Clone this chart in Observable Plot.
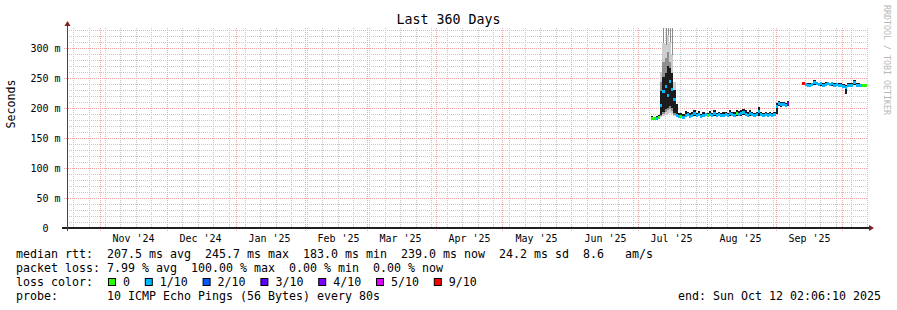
<!DOCTYPE html>
<html><head><meta charset="utf-8">
<script src="https://cdn.jsdelivr.net/npm/d3@7"></script>
<script src="https://cdn.jsdelivr.net/npm/@observablehq/plot@0.6"></script>
<style>
html,body{margin:0;padding:0;background:#fff;}
#chart svg{display:block;}
</style></head><body>
<div id="chart"></div>
<script>
// ---- time frame ----
const START = new Date(Date.UTC(2024, 9, 17, 2, 6, 10));
const END = new Date(Date.UTC(2025, 9, 12, 2, 6, 10));
const yTicks = [0, 50, 100, 150, 200, 250, 300];
const yMax = 333.33;

// ---- loss colours ----
const lossLevels = [0, 1, 2, 3, 4, 5, 9];
const lossLabels = ["0", "1/10", "2/10", "3/10", "4/10", "5/10", "9/10"];
const lossColors = ["#26ff00", "#00b8ff", "#0059ff", "#5e00ff", "#7e00ff", "#dd00ff", "#ff0000"];

// ---- segment 1: Jul 7 .. Sep 6 2025 (daily, ms) ----
const seg1Start = "2025-07-07";
const seg1Median = [184,183,184,185, 205,228,236,222,245.7,232,215,
  189,186,187,185,188,190,187,189,191,188,190,187,189,190,
  188,190,189,191,188,190,189,188,190,189, 191,190,189,192,190,191,193,190,189,191,
  190,189,190,195,190,189,190,189,190,189,190,
  204,208,206,207,205,209];
const seg1Lo = [182,181,182,183, 188,194,198,200,204,200,192,
  186,183,184,183,185,186,184,185,187,185,186,184,185,186,
  185,186,186,187,185,186,186,185,186,186, 187,186,186,187,186,187,188,186,186,187,
  186,186,186,187,186,186,186,186,187,186,187,
  190,203,202,203,202,204];
const seg1Hi = [186,185,187,189, 228,252,258,270,266,258,230,
  206,192,191,190,195,193,192,194,196,191,195,190,194,192,
  191,195,192,196,191,194,192,193,194,192, 196,193,194,197,195,197,198,196,193,196,
  194,192,194,201,193,192,193,192,193,192,193,
  208,211,210,210,209,212];
const seg1Loss = [0,0,1,0, 1,1,1,1,1,1,1,
  1,1,0,1,1,1,1,1,1,1,1,1,1,1,
  0,1,1,1,1,1,1,1,1,1, 1,1,1,0,1,1,1,1,1,1,
  1,1,1,1,1,1,1,1,1,1,1,
  1,1,1,1,1,4];

// ---- segment 2: Sep 13 .. Oct 12 2025 ----
const seg2Start = "2025-09-13";
const seg2Median = [241,240,238,239,240,243,241,240,241,239, 240,241,240,241,239,240,239,239,237,235, 239,238,238,244,239,238,238,238,238,239];
const seg2Lo = [238,236,236,237,237,239,238,237,237,236, 237,238,237,237,236,237,236,236,234,223, 236,236,236,239,237,236,236,236,236,237];
const seg2Hi = [243,242,241,241,242,246,244,242,243,242, 243,244,242,243,241,242,242,241,240,238, 241,241,242,247,242,241,240,240,240,241];
const seg2Loss = [9,1,1,1,1,1,1,1,1,1, 1,1,1,1,1,1,1,1,1,1, 1,1,1,1,1,1,1,0,0,0];

// ---- smoke of the July spike: Jul 11 .. Jul 17 ----
const spikeStart = "2025-07-11";
const spikeOuterLo = [185,186,188,190,192,190,186];
const spikeOuterHi = [260,308,305,322,310,288,244];
const spikeMidLo = [187,190,194,196,198,195,189];
const spikeMidHi = [244,277,283,294,277,255,222];
const spikeMax = [260,333,333,333,333,333,244];

// ---- legend texts ----
const legendLines = [
  "median rtt:  207.5 ms avg  245.7 ms max  183.0 ms min  239.0 ms now  24.2 ms sd  8.6   am/s",
  "packet loss: 7.99 % avg  100.00 % max  0.00 % min  0.00 % now",
  "loss color:",
  "probe:       10 ICMP Echo Pings (56 Bytes) every 80s"
];
const endLabel = "end: Sun Oct 12 02:06:10 2025";
const titleText = "Last 360 Days";
const yLabel = "Seconds";
const watermark = "RRDTOOL / TOBI OETIKER";

// ---- build tables ----
function dayRows(start, n) {
  const t0 = new Date(start + "T00:00:00Z");
  return d3.range(n).map(i => ({
    date: d3.utcDay.offset(t0, i),
    next: new Date(Math.min(+d3.utcDay.offset(t0, i + 1), +END))
  }));
}
function segRows(start, med, lo, hi, loss) {
  return dayRows(start, med.length).map((r, i) => ({
    ...r, median: med[i], lo: lo[i], hi: hi[i],
    color: lossColors[lossLevels.indexOf(loss[i])]
  }));
}
const rows = [
  ...segRows(seg1Start, seg1Median, seg1Lo, seg1Hi, seg1Loss),
  ...segRows(seg2Start, seg2Median, seg2Lo, seg2Hi, seg2Loss)
];
const spike = dayRows(spikeStart, spikeMax.length).map((r, i) => ({
  ...r, olo: spikeOuterLo[i], ohi: spikeOuterHi[i], mlo: spikeMidLo[i], mhi: spikeMidHi[i], max: spikeMax[i],
  mid: new Date((+r.date + +r.next) / 2)
}));

const minorY = d3.range(10, 340, 10).filter(v => v % 50 !== 0);
const weekLines = d3.utcSunday.range(START, END);
const monthLines = d3.utcMonth.range(START, END);
const monthLabels = monthLines.map(m => d3.utcDay.offset(m, 15)).filter(d => d > START && d < END);

const GRID = "#c6c6c6", MGRID = "#f0a4a4", AXIS = "#1f1f1f", ARROW = "#801f1f";

const plot = Plot.plot({
  width: 897, height: 310,
  marginLeft: 67, marginRight: 30, marginTop: 28, marginBottom: 82,
  style: {fontFamily: "DejaVu Sans Mono", fontSize: "10px", background: "#fff", color: "#000"},
  x: {type: "utc", domain: [START, END], round: true},
  y: {domain: [0, yMax], round: true},
  marks: [
    Plot.ruleY(minorY, {stroke: GRID, strokeDasharray: "1,1"}),
    Plot.ruleX(weekLines, {stroke: GRID, strokeDasharray: "1,1"}),
    Plot.ruleY(yTicks.slice(1), {stroke: MGRID, strokeDasharray: "1,1", insetLeft: -3}),
    Plot.ruleX(monthLines, {stroke: MGRID, strokeDasharray: "1,1", insetBottom: -3}),
    // smoke
    Plot.ruleX(spike.filter(d => d.max > d.ohi), {x: "mid", y1: "ohi", y2: "max", stroke: "#8c8c8c"}),
    Plot.rect(spike, {x1: "date", x2: "next", y1: "olo", y2: "ohi", fill: "#cdcdcd"}),
    Plot.rect(spike, {x1: "date", x2: "next", y1: "mlo", y2: "mhi", fill: "#8e8e8e"}),
    Plot.rect(rows, {x1: "date", x2: "next", y1: "lo", y2: "hi", fill: "#1c1c1c"}),
    // median coloured by loss
    Plot.ruleY(rows, {y: "median", x1: "date", x2: "next", stroke: "color", strokeWidth: 3}),
    // axes
    Plot.ruleY([0], {stroke: AXIS, strokeWidth: 2, dy: -0.5, insetLeft: -5, insetRight: -3}),
    Plot.ruleX([START], {stroke: "#444", insetTop: -3, insetBottom: -3}),
    Plot.axisY({ticks: yTicks, tickSize: 0, tickPadding: 7, label: null,
      tickFormat: d => d === 0 ? "0\u00a0\u00a0" : d + "\u00a0m"}),
    Plot.axisX({ticks: monthLabels, tickSize: 0, tickPadding: 6, label: null,
      tickFormat: d3.utcFormat("%b '%y")}),
    Plot.text([yLabel], {frameAnchor: "left", dx: -56, rotate: -90, fontSize: 11.6})
  ]
});

document.getElementById("chart").appendChild(plot);

// ---- decorations: arrows, title, watermark, legend ----
const svg = d3.select(plot);
const [xl, xr] = plot.scale("x").range;
const [yb, yt] = plot.scale("y").range;
svg.append("polygon")
  .attr("points", `${xl + 0.5},${yt - 7} ${xl - 2.5},${yt - 2} ${xl + 3.5},${yt - 2}`)
  .attr("fill", ARROW);
svg.append("polygon")
  .attr("points", `${xr + 7},${yb} ${xr + 2},${yb - 3} ${xr + 2},${yb + 3}`)
  .attr("fill", ARROW);

const mono = "DejaVu Sans Mono";
const deco = svg.append("g").attr("text-anchor", "start").attr("font-family", mono).attr("fill", "#000");

deco.append("text").attr("x", 448.5).attr("y", 24).attr("text-anchor", "middle")
  .attr("font-size", 13.3).text(titleText);

deco.append("text").attr("transform", "translate(884,5) rotate(90)")
  .attr("text-anchor", "start").attr("font-size", 8.3).attr("fill", "#b8b8b8").text(watermark);

const lfs = 11.63, cw = 7, lx = 16;
const nb = s => s.replace(/ /g, "\u00a0");
const base = [258, 272, 286, 300];
legendLines.forEach((line, i) => {
  deco.append("text").attr("x", lx).attr("y", base[i]).attr("text-anchor", "start")
    .attr("font-size", lfs).text(nb(line));
});
deco.append("text").attr("x", 881).attr("y", base[3]).attr("text-anchor", "end")
  .attr("font-size", lfs).text(nb(endLabel));

let bx = lx + 13 * cw + 1;
lossLabels.forEach((lab, i) => {
  deco.append("rect").attr("x", bx + 0.5).attr("y", base[2] - 7.5).attr("width", 7).attr("height", 7)
    .attr("fill", lossColors[i]).attr("stroke", "#000").attr("stroke-width", 1);
  deco.append("text").attr("x", bx + 15).attr("y", base[2]).attr("text-anchor", "start")
    .attr("font-size", lfs).text(lab);
  bx = bx + 15 + lab.length * cw + 14.8;
});
</script>
</body></html>
